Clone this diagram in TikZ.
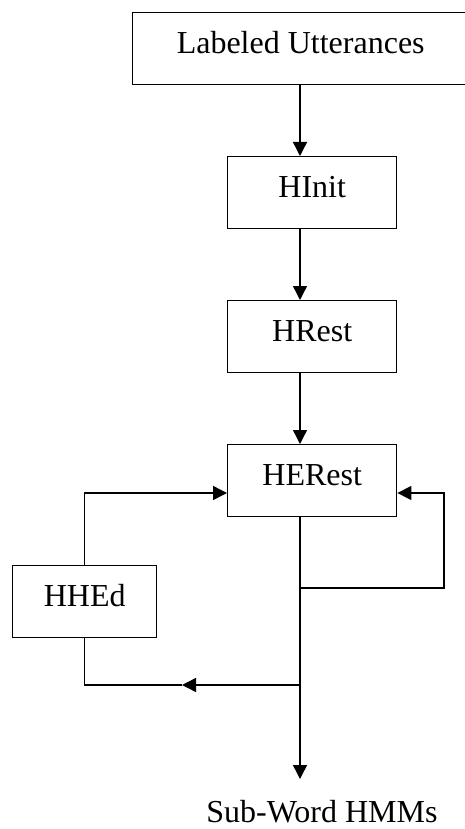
\documentclass[tikz,border=0pt]{standalone}
\usepackage{fontspec}
\setmainfont{Liberation Serif}
\usetikzlibrary{arrows.meta}

\begin{document}
\begin{tikzpicture}[x=1pt,y=-1pt,
  stagebox/.style={draw, line width=1.4pt, rectangle, inner sep=0pt, anchor=north west,
    minimum height=72pt, text height=41pt, text depth=31pt,
    font=\fontsize{32}{38}\selectfont},
  flow/.style={line width=1.4pt},
  arr/.style={flow, -{Triangle[length=14pt,width=14pt]}},
  label/.style={inner sep=0pt, anchor=base, font=\fontsize{32}{38}\selectfont}]

\useasboundingbox (0,0) rectangle (464,829);

% processing stages
\node[stagebox, minimum width=336pt] (lab)    at (132,12)  {Labeled Utterances};
\node[stagebox, minimum width=169pt] (hinit)  at (227,156) {HInit};
\node[stagebox, minimum width=169pt] (hrest)  at (227,300) {HRest};
\node[stagebox, minimum width=169pt] (herest) at (227,444) {HERest};
\node[stagebox, minimum width=144pt] (hhed)   at (12,565)  {HHEd};

% helper points of the main line and the feedback loops
\coordinate (spine)  at (300,0);
\coordinate (inrow)  at (0,493);
\coordinate (rj)     at (300,588);
\coordinate (rc)     at (444,588);
\coordinate (lj)     at (300,685);
\coordinate (lmid)   at (182,685);
\coordinate (outend) at (300,779);

% main chain
\draw[arr] (lab.south -| spine) -- (hinit.north -| spine);
\draw[arr] (hinit.south -| spine) -- (hrest.north -| spine);
\draw[arr] (hrest.south -| spine) -- (herest.north -| spine);
\draw[arr] (herest.south -| spine) -- (outend);

% HERest re-estimation loop
\draw[arr] (rj) -- (rc) -- (rc |- inrow) -- (herest.east |- inrow);

% HHEd edit loop
\draw[arr] (lj) -- (lmid);
\draw[flow] (lmid) -- (hhed.south |- lj) -- (hhed.south);
\draw[arr] (hhed.north) |- (herest.west |- inrow);

% result
\node[label] (out) at (322,822) {Sub-Word HMMs};
\end{tikzpicture}
\end{document}
